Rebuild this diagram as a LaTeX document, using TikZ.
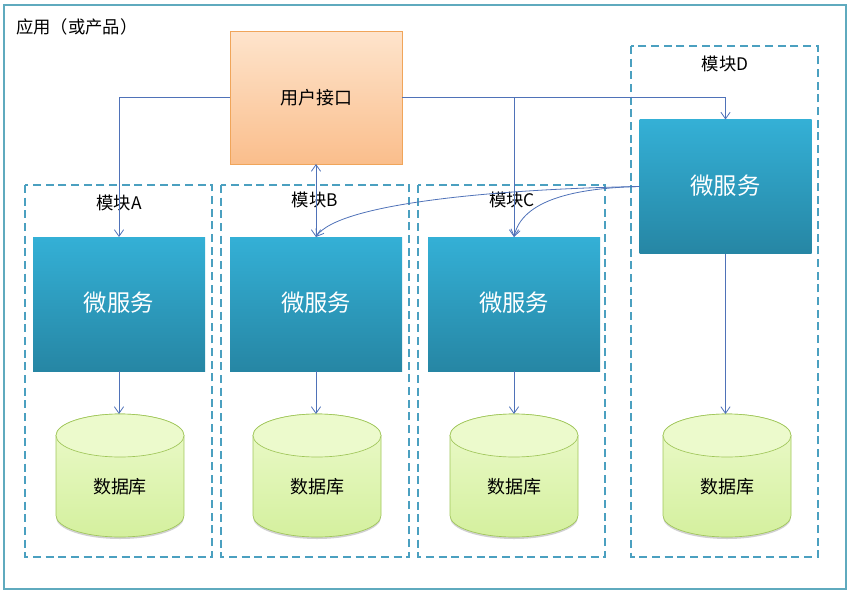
\documentclass[tikz,border=0pt]{standalone}
\usepackage{fontspec}
\setmainfont{Noto Sans CJK SC}
\usetikzlibrary{arrows.meta}
\definecolor{arrowc}{RGB}{79,114,184}
\definecolor{dashc}{RGB}{75,160,192}
\definecolor{framec}{RGB}{95,170,190}
\definecolor{mstop}{RGB}{52,176,214}
\definecolor{msmid}{RGB}{48,166,204}
\definecolor{msbot}{RGB}{38,134,164}
\definecolor{uitop}{RGB}{254,228,204}
\definecolor{uibot}{RGB}{250,190,140}
\definecolor{uiedge}{RGB}{240,165,90}
\definecolor{dbtop}{RGB}{236,250,204}
\definecolor{dbbot}{RGB}{212,240,158}
\definecolor{dbedge}{RGB}{160,198,90}
\tikzset{
  modbox/.style={draw=dashc, line width=1.5pt, dash pattern=on 6pt off 3.5pt},
  modlabel/.style={font=\fontsize{13}{15}\selectfont, inner sep=0pt},
  msbox/.style={minimum width=129pt, minimum height=100.5pt, inner sep=0pt, outer sep=0pt,
    top color=mstop, middle color=msmid, bottom color=msbot, draw=none,
    text=white, font=\fontsize{17.5}{20}\selectfont},
  uibox/.style={minimum width=129pt, minimum height=99.75pt, inner sep=0pt, outer sep=0pt,
    top color=uitop, bottom color=uibot, draw=uiedge, line width=0.6pt,
    font=\fontsize{13.5}{16}\selectfont},
  dbtext/.style={font=\fontsize{13.5}{16}\selectfont, inner sep=0pt},
  conn/.style={draw=arrowc, line width=0.6pt, -{Straight Barb[length=5pt,width=7pt]}},
}
\newcommand{\dbcyl}[1]{%
  \fill[black!18] (#1,-517.5) ellipse [x radius=48pt, y radius=16.125pt];
  \shade[top color=dbtop, bottom color=dbbot, draw=dbedge, line width=0.5pt]
    (#1-64,-435.5) -- (#1-64,-515.5)
    arc[start angle=180, end angle=360, x radius=48pt, y radius=16.125pt]
    -- (#1+64,-435.5)
    arc[start angle=0, end angle=180, x radius=48pt, y radius=16.125pt] -- cycle;
  \draw[draw=dbedge, fill=dbtop, line width=0.5pt] (#1,-435.5) ellipse [x radius=48pt, y radius=16.125pt];
}
\begin{document}
\begin{tikzpicture}[x=0.75pt, y=0.75pt]
\useasboundingbox (0,0) rectangle (851,-597);
% outer frame
\draw[draw=framec, line width=0.8pt] (4,-5) rectangle (846,-589);
\node[anchor=west, inner sep=0pt, font=\fontsize{13}{15}\selectfont] (app) at (16,-27) {应用（或产品）};
% module frames
\draw[modbox] (25,-185) rectangle (212,-557);
\draw[modbox] (221,-185) rectangle (409,-557);
\draw[modbox] (418,-185) rectangle (605,-557);
\draw[modbox] (631,-46) rectangle (818,-557);
\node[modlabel] (labA) at (119,-203) {模块A};
\node[modlabel] (labB) at (315,-200) {模块B};
\node[modlabel] (labC) at (512,-200) {模块C};
\node[modlabel] (labD) at (725,-64) {模块D};
% databases
\dbcyl{120}
\dbcyl{317}
\dbcyl{514}
\dbcyl{727}
\node[dbtext] (dbA) at (120,-487) {数据库};
\node[dbtext] (dbB) at (317,-487) {数据库};
\node[dbtext] (dbC) at (514,-487) {数据库};
\node[dbtext] (dbD) at (727,-487) {数据库};
\coordinate (dbAtop) at (120,-414);
\coordinate (dbBtop) at (317,-414);
\coordinate (dbCtop) at (514,-414);
\coordinate (dbDtop) at (727,-414);
% main nodes
\node[uibox] (ui) at (316,-97.5) {用户接口};
\node[msbox] (msA) at (119,-304) {\raisebox{3pt}{微服务}};
\node[msbox] (msB) at (316,-304) {\raisebox{3pt}{微服务}};
\node[msbox] (msC) at (514,-304) {\raisebox{3pt}{微服务}};
\node[msbox] (msD) at (725.5,-186.5) {\raisebox{2pt}{微服务}};
% connectors
\draw[conn] (ui.west) -| (msA.north);
\draw[conn] (ui.east) -| (msD.north);
\draw[conn] (ui.east -| msC.north) -- (msC.north);
\draw[conn, {Straight Barb[length=5pt,width=7pt]}-{Straight Barb[length=5pt,width=7pt]}] (msB.north) -- (ui.south);
\draw[conn] (msD.west) .. controls (500,-189) and (338,-203) .. (msB.north);
\draw[conn] (msD.west) .. controls (575,-188) and (522,-200) .. (msC.north);
\draw[conn] (msA.south) -- (msA.south |- dbAtop);
\draw[conn] (msB.south) -- (msB.south |- dbBtop);
\draw[conn] (msC.south) -- (msC.south |- dbCtop);
\draw[conn] (msD.south) -- (msD.south |- dbDtop);
\end{tikzpicture}
\end{document}
